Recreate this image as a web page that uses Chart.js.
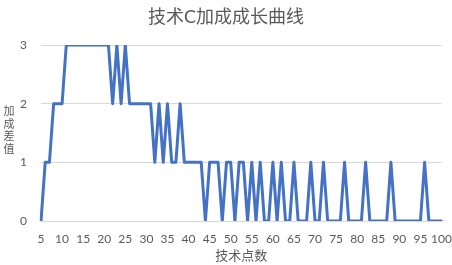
<!DOCTYPE html>
<html>
<head>
<meta charset="utf-8">
<script src="https://cdn.jsdelivr.net/npm/chart.js@4/dist/chart.umd.min.js"></script>
<style>
  html, body { margin: 0; padding: 0; background: #fff; }
  #wrap { width: 452px; height: 265px; }
</style>
</head>
<body>
<div id="wrap"><canvas id="growthChart" width="452" height="265"></canvas></div>
<script>
// 技术点数 (x 轴类别)
const techPoints = [
  5, 6, 7, 8, 9, 10, 11, 12, 13, 14, 15, 16, 17, 18, 19, 20,
  21, 22, 23, 24, 25, 26, 27, 28, 29, 30, 31, 32, 33, 34, 35, 36,
  37, 38, 39, 40, 41, 42, 43, 44, 45, 46, 47, 48, 49, 50, 51, 52,
  53, 54, 55, 56, 57, 58, 59, 60, 61, 62, 63, 64, 65, 66, 67, 68,
  69, 70, 71, 72, 73, 74, 75, 76, 77, 78, 79, 80, 81, 82, 83, 84,
  85, 86, 87, 88, 89, 90, 91, 92, 93, 94, 95, 96, 97, 98, 99, 100
];

// 加成差值
const bonusDiff = [
  0, 1, 1, 2, 2, 2, 3,
  3, 3, 3, 3, 3, 3, 3, 3, 3, 3,
  2, 3, 2, 3, 2, 2, 2, 2, 2, 2,
  1, 2, 1, 2, 1, 1, 2, 1, 1, 1,
  1, 1, 0, 1, 1, 1, 0, 1, 1, 0,
  1, 1, 0, 1, 0, 1, 0, 0, 1, 0,
  1, 0, 0, 1, 0, 0, 0, 1, 0, 0,
  1, 0, 0, 0, 0, 1, 0, 0, 0, 0,
  1, 0, 0, 0, 0, 0, 1, 0, 0, 0,
  0, 0, 0, 0, 1, 0, 0, 0, 0
];

const yTicks = [0, 1, 2, 3];
const xTickStep = 5;

const chartTitle = '技术C加成成长曲线';
const xTitle = '技术点数';
const yTitle = '加成差值';

const textColor = '#595959';
const fontFamily = 'Lato, "Noto Sans CJK SC", sans-serif';

// 纵向排列的 y 轴标题
const verticalYTitle = {
  id: 'verticalYTitle',
  afterDraw(chart) {
    const ctx = chart.ctx;
    const area = chart.chartArea;
    const chars = Array.from(yTitle);
    const step = 12.6;
    const mid = (area.top + area.bottom) / 2 - 2.5;
    const start = mid - step * (chars.length - 1) / 2;
    ctx.save();
    ctx.fillStyle = textColor;
    ctx.font = '11px ' + fontFamily;
    ctx.textAlign = 'center';
    ctx.textBaseline = 'middle';
    chars.forEach((ch, i) => ctx.fillText(ch, 9, start + i * step));
    ctx.restore();
  }
};

const ctx = document.getElementById('growthChart').getContext('2d');
new Chart(ctx, {
  type: 'line',
  data: {
    labels: techPoints,
    datasets: [{
      label: yTitle,
      data: bonusDiff,
      borderColor: '#4472C4',
      borderWidth: 3,
      borderJoinStyle: 'round',
      borderCapStyle: 'round',
      pointRadius: 0,
      tension: 0,
      fill: false
    }]
  },
  options: {
    responsive: false,
    animation: false,
    layout: { padding: { left: 0, right: 0, top: 0, bottom: 0 } },
    plugins: {
      legend: { display: false },
      tooltip: { enabled: false },
      title: {
        display: true,
        text: chartTitle,
        color: textColor,
        font: { family: fontFamily, size: 18, weight: 'normal' },
        padding: { top: 6, bottom: 17.4 }
      }
    },
    scales: {
      x: {
        type: 'category',
        offset: false,
        grid: { display: false },
        border: { display: false },
        afterFit(scale) {
          scale.height = 44;
          scale.paddingLeft = 0;
          scale.paddingRight = 10.5;
        },
        ticks: {
          autoSkip: false,
          maxRotation: 0,
          minRotation: 0,
          padding: 3,
          color: textColor,
          font: { family: fontFamily, size: 12 },
          callback(value, index) {
            const v = techPoints[index];
            return v % xTickStep === 0 ? String(v) : null;
          }
        },
        title: {
          display: true,
          text: xTitle,
          color: textColor,
          font: { family: fontFamily, size: 13 },
          padding: { top: 0, bottom: 1 }
        }
      },
      y: {
        min: yTicks[0],
        max: yTicks[yTicks.length - 1],
        afterFit(scale) { scale.width = 41; },
        grid: { color: '#d9d9d9', lineWidth: 1, drawTicks: false },
        border: { display: false },
        afterBuildTicks(scale) { scale.ticks = yTicks.map(v => ({ value: v })); },
        ticks: {
          padding: 14,
          color: textColor,
          font: { family: fontFamily, size: 12 }
        }
      }
    }
  },
  plugins: [verticalYTitle]
});
</script>
</body>
</html>
